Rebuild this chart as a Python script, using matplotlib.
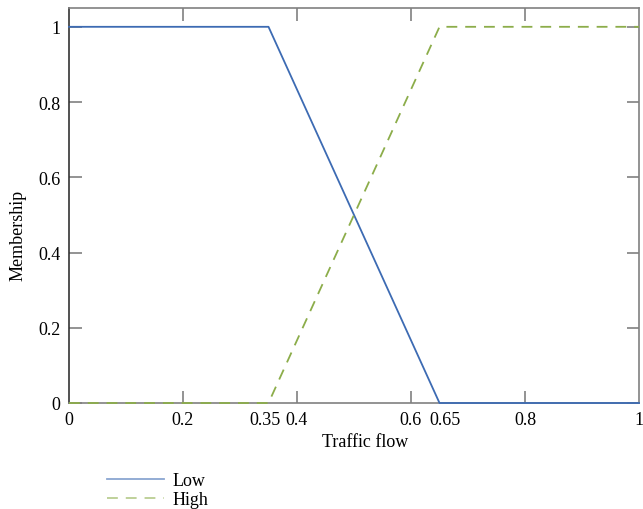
import matplotlib
matplotlib.use("Agg")
import matplotlib.pyplot as plt
import matplotlib.transforms as mtransforms

x_low = [0, 0.35, 0.65, 1]
y_low = [1, 1, 0, 0]
x_high = [0, 0.35, 0.65, 1]
y_high = [0, 0, 1, 1]
xticks = [0, 0.2, 0.35, 0.4, 0.6, 0.65, 0.8, 1]
xticklabels = ["0", "0.2", "0.35", "0.4", "0.6", "0.65", "0.8", "1"]
yticks = [0, 0.2, 0.4, 0.6, 0.8, 1]
yticklabels = ["0", "0.2", "0.4", "0.6", "0.8", "1"]

plt.rcParams['font.family'] = ['Liberation Serif', 'DejaVu Serif']
fs = 13

fig = plt.figure(figsize=(6.43, 5.10), dpi=100)
ax = fig.add_axes([69/643, 1-404/510, 570/643, 395/510])

blue = "#3d6bb3"
green = "#8cad4a"
l1, = ax.plot(x_low, y_low, color=blue, lw=1.3, label="Low", clip_on=False, zorder=3)
l2, = ax.plot(x_high, y_high, color=green, lw=1.3, ls=(0, (6, 4.4)), label="High", clip_on=False, zorder=3)

ax.set_xlim(0, 1)
ax.set_ylim(0, 1.05)
ax.set_xticks(xticks)
ax.set_xticklabels(xticklabels, fontsize=fs)
ax.set_yticks(yticks)
ax.set_yticklabels(yticklabels, fontsize=fs)
ax.tick_params(direction='in', length=9, width=1.2, color='#808080', top=True, right=True, pad=6)
for i, t in enumerate(ax.xaxis.get_major_ticks()):
    if xticks[i] in (0, 0.35, 0.65, 1):
        t.tick1line.set_visible(False)
        t.tick2line.set_visible(False)
# nudge crowded labels apart as in the reference
shifts = {0.35: -4, 0.65: 6}
for val, lab in zip(xticks, ax.get_xticklabels()):
    if val in shifts:
        lab.set_transform(lab.get_transform() + mtransforms.ScaledTranslation(shifts[val]/100, 0, fig.dpi_scale_trans))
for name, sp in ax.spines.items():
    sp.set_color('#808080')
    sp.set_linewidth(1.2)
ax.spines['left'].set_color('#333333')

ax.set_xlabel("Traffic flow", fontsize=fs, labelpad=4)
ax.xaxis.set_label_coords((365-69)/570, -0.075)
ax.set_ylabel("Membership", fontsize=fs)
ax.yaxis.set_label_coords(-(69-27)/570, (404-235)/395)

leg = fig.legend(handles=[l1, l2], loc='upper left', bbox_to_anchor=(98/643, 1-464/510),
                 frameon=False, fontsize=fs, handlelength=3.15, handletextpad=0.5,
                 labelspacing=0.1, borderpad=0)
for h in leg.get_lines():
    h.set_alpha(0.6)

fig.savefig("out.png", dpi=100)
